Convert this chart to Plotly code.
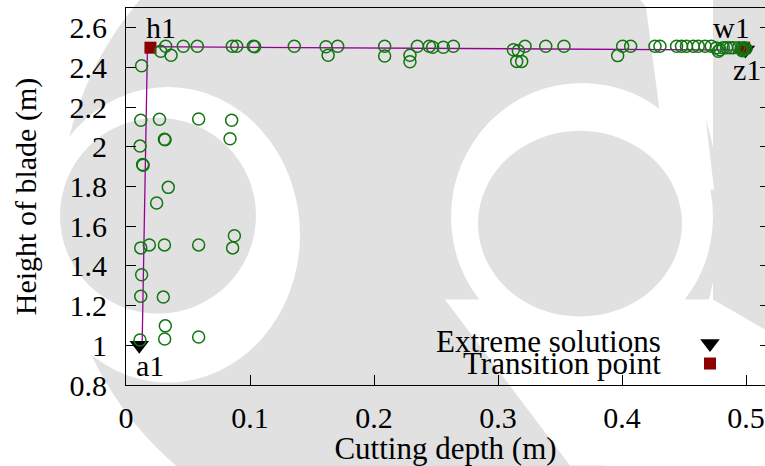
import plotly.graph_objects as go

# Candidate designs: cutting depth (m) vs. blade height (m)
depth = [
    0.0119, 0.0270, 0.0586, 0.0852, 0.0310, 0.0315, 0.0839, 0.0113, 0.0134, 0.0138,
    0.0341, 0.0247, 0.0874, 0.0119, 0.0188, 0.0310, 0.0586, 0.0860, 0.0126, 0.0119,
    0.0301, 0.0317, 0.0312, 0.0586, 0.0113, 0.0126,
    0.0280, 0.0320, 0.0363, 0.0462, 0.0575, 0.0857, 0.0893, 0.1027, 0.1038,
    0.1357, 0.1613, 0.1707, 0.1630, 0.2086, 0.2086, 0.2290, 0.2290, 0.2350, 0.2446,
    0.2473, 0.2559, 0.2640,
    0.3124, 0.3164, 0.3218, 0.3151, 0.3191, 0.3385, 0.3532, 0.3965, 0.4005, 0.4070,
    0.4266, 0.4306, 0.4440, 0.4480, 0.4520, 0.4575, 0.4615, 0.4670, 0.4720, 0.4760,
    0.4777, 0.4790,
    0.4817, 0.4844, 0.4871, 0.4898, 0.4940, 0.4960, 0.4970, 0.4980, 0.4985, 0.5000,
]
height = [
    2.134, 2.139, 2.141, 2.134, 2.038, 2.036, 2.041, 2.004, 1.911, 1.908,
    1.796, 1.717, 1.552, 1.491, 1.506, 1.506, 1.506, 1.491, 1.356, 1.247,
    1.243, 1.098, 1.032, 1.042, 1.027, 2.409,
    2.482, 2.507, 2.462, 2.507, 2.507, 2.507, 2.507, 2.507, 2.505,
    2.507, 2.505, 2.507, 2.462, 2.507, 2.458, 2.462, 2.429, 2.507, 2.507,
    2.502, 2.502, 2.507,
    2.490, 2.485, 2.507, 2.431, 2.431, 2.507, 2.507, 2.460, 2.507, 2.507,
    2.507, 2.507, 2.507, 2.507, 2.507, 2.507, 2.507, 2.507, 2.507, 2.499,
    2.482, 2.490,
    2.500, 2.500, 2.500, 2.500, 2.500, 2.495, 2.485, 2.490, 2.500, 2.495,
]

# Pareto front polyline
front_depth = [0.0130, 0.0173, 0.5000]
front_height = [1.000, 2.505, 2.488]

# Extreme solutions
extreme_depth = [0.0107, 0.4995]
extreme_height = [1.000, 2.488]
extreme_names = ["a1", "z1"]

# Transition points
transition_depth = [0.0197, 0.4985]
transition_height = [2.500, 2.500]
transition_names = ["h1", "w1"]

legend_labels = ["Extreme solutions", "Transition point"]
x_ticks = [0, 0.1, 0.2, 0.3, 0.4, 0.5]
x_tick_text = ["0", "0.1", "0.2", "0.3", "0.4", "0.5"]
y_ticks = [0.8, 1.0, 1.2, 1.4, 1.6, 1.8, 2.0, 2.2, 2.4, 2.6]
y_tick_text = ["0.8", "1", "1.2", "1.4", "1.6", "1.8", "2", "2.2", "2.4", "2.6"]

FONT = "'Liberation Serif', 'Times New Roman', Times, serif"
GREEN = "#127512"
PURPLE = "#960096"
DARKRED = "#8b0000"
WM_GREY = "#e1e1e1"

W, H = 765, 466
L, R, T, B = 126, 0, 8, 80.5
pw, ph = W - L - R, H - T - B


def px_x(p):
    return (p - L) / pw


def px_y(p):
    return (H - B - p) / ph


fig = go.Figure()

fig.add_trace(go.Scatter(
    x=front_depth, y=front_height, mode="lines",
    line=dict(color=PURPLE, width=1.3), hoverinfo="skip", showlegend=False))

fig.add_trace(go.Scatter(
    x=extreme_depth, y=extreme_height, mode="markers",
    marker=dict(symbol="triangle-down", size=17, color="black",
                line=dict(width=0)),
    showlegend=False))

fig.add_trace(go.Scatter(
    x=transition_depth, y=transition_height, mode="markers",
    marker=dict(symbol="square", size=12, color=DARKRED, line=dict(width=0)),
    showlegend=False))

fig.add_trace(go.Scatter(
    x=depth, y=height, mode="markers",
    marker=dict(symbol="circle-open", size=12, color=GREEN,
                line=dict(width=1.5, color=GREEN)),
    showlegend=False))

# key symbols, drawn on an overlay axis pair spanning the plot area
key_x = [px_x(710), px_x(710)]
key_y = [px_y(344), px_y(364)]
fig.add_trace(go.Scatter(
    x=key_x, y=key_y, mode="markers", xaxis="x2", yaxis="y3",
    marker=dict(symbol=["triangle-down", "square"], size=[17, 12],
                color=["black", DARKRED], opacity=1, line=dict(width=0)),
    hoverinfo="skip", showlegend=False))

# right-hand tick marks
fig.add_trace(go.Scatter(x=[None], y=[None], yaxis="y2", showlegend=False))

annotations = []
offsets = {"a1": (11, -20), "z1": (2, -19), "h1": (11, 20), "w1": (-13, 20)}
for names, xs, ys in ((extreme_names, extreme_depth, extreme_height),
                      (transition_names, transition_depth, transition_height)):
    for n, xv, yv in zip(names, xs, ys):
        dx, dy = offsets[n]
        annotations.append(dict(
            x=xv, y=yv, xref="x", yref="y", text=n, showarrow=False,
            xshift=dx, yshift=dy, font=dict(family=FONT, size=30, color="black"),
            xanchor="center", yanchor="middle"))

for lab, yy in zip(legend_labels, (342, 364)):
    annotations.append(dict(
        x=px_x(663), y=px_y(yy), xref="paper", yref="paper", text=lab,
        showarrow=False, xanchor="right", yanchor="middle",
        font=dict(family=FONT, size=31, color="black")))


# faint background emblem (grey discs and white rings), in page pixels
def ellipse(cx, cy, rx, ry, color):
    return dict(type="circle", xref="paper", yref="paper", layer="below",
                x0=px_x(cx - rx), x1=px_x(cx + rx),
                y0=px_y(cy + ry), y1=px_y(cy - ry),
                fillcolor=color, line=dict(width=0))


def polygon(points, color):
    path = "M " + " L ".join(f"{px_x(a):.4f},{px_y(b):.4f}" for a, b in points) + " Z"
    return dict(type="path", xref="paper", yref="paper", layer="below",
                path=path, fillcolor=color, line=dict(width=0))


emblem = [
    ellipse(390, 215, 330, 330, WM_GREY),
    polygon([(713, 0), (765, 0), (765, 330), (713, 330)], WM_GREY),
    polygon([(445, 300), (713, 300), (765, 330), (765, 466), (570, 466)], "white"),
    ellipse(168, 235, 132, 148, "white"),
    ellipse(158, 216, 98, 98, WM_GREY),
    polygon([(645, 0), (692, 0), (714, 190), (670, 190)], "white"),
    ellipse(582, 217, 131, 134, "white"),
    ellipse(580, 224, 102, 93, WM_GREY),
]

axis_common = dict(
    showgrid=False, zeroline=False, showline=True, linecolor="black",
    linewidth=1, ticks="inside", ticklen=10, tickwidth=1, tickcolor="black",
    tickfont=dict(family=FONT, size=30, color="black"),
)

fig.update_layout(
    width=W, height=H,
    margin=dict(l=L, r=R, t=T, b=B, pad=0),
    paper_bgcolor="white", plot_bgcolor="rgba(0,0,0,0)",
    font=dict(family=FONT, size=30, color="black"),
    xaxis=dict(axis_common, range=[0, pw / 1240], tickvals=x_ticks,
               ticktext=x_tick_text, mirror=True, ticklabelstandoff=6,
               title=dict(text="Cutting depth (m)", standoff=2,
                          font=dict(family=FONT, size=31))),
    yaxis=dict(axis_common, range=[0.8, 2.7], tickvals=y_ticks,
               ticktext=y_tick_text, ticklabelstandoff=12,
               title=dict(text="Height of blade (m)", standoff=24,
                          font=dict(family=FONT, size=30))),
    yaxis2=dict(overlaying="y", side="right", range=[0.8, 2.7], tickvals=y_ticks,
                showticklabels=False, showgrid=False, zeroline=False, showline=False,
                ticks="inside", ticklen=5, tickcolor="black", tickwidth=1),
    xaxis2=dict(overlaying="x", range=[0, 1], visible=False),
    yaxis3=dict(overlaying="y", range=[0, 1], visible=False),
    annotations=annotations,
    shapes=emblem,
)

fig.write_html("out.html")
